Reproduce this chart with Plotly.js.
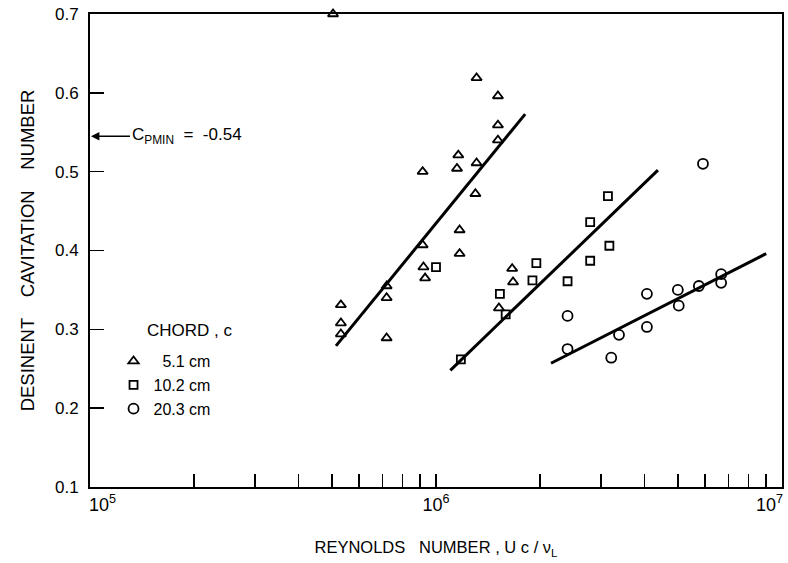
<!DOCTYPE html>
<html>
<head>
<meta charset="utf-8">
<script src="https://cdn.plot.ly/plotly-3.0.1.min.js"></script>
<style>html,body{margin:0;padding:0;background:#fff;}#chart{width:788px;height:563px;}</style>
</head>
<body>
<div id="chart"></div>
<script>
// Chord 5.1 cm (triangles)
const re51 = [5.04e5, 5.31e5, 5.31e5, 5.31e5, 7.2e5, 7.2e5, 7.2e5, 9.15e5, 9.15e5, 9.2e5, 9.3e5, 1.15e6, 1.16e6, 1.17e6, 1.17e6, 1.30e6, 1.31e6, 1.31e6, 1.51e6, 1.51e6, 1.51e6, 1.52e6, 1.66e6, 1.67e6];
const sig51 = [0.700, 0.331, 0.308, 0.294, 0.355, 0.340, 0.289, 0.500, 0.407, 0.379, 0.365, 0.504, 0.521, 0.426, 0.396, 0.472, 0.511, 0.619, 0.596, 0.559, 0.540, 0.327, 0.377, 0.360];
// Chord 10.2 cm (squares)
const re102 = [1.00e6, 1.18e6, 1.53e6, 1.59e6, 1.90e6, 1.95e6, 2.40e6, 2.79e6, 2.79e6, 3.14e6, 3.17e6];
const sig102 = [0.379, 0.262, 0.345, 0.319, 0.362, 0.384, 0.361, 0.436, 0.387, 0.469, 0.406];
// Chord 20.3 cm (circles)
const re203 = [2.40e6, 2.40e6, 3.21e6, 3.38e6, 4.07e6, 4.07e6, 5.00e6, 5.03e6, 5.75e6, 5.91e6, 6.67e6, 6.67e6];
const sig203 = [0.317, 0.275, 0.264, 0.293, 0.345, 0.303, 0.350, 0.330, 0.355, 0.510, 0.370, 0.359];
// Fitted lines
const fit51x = [5.14e5, 1.81e6], fit51y = [0.279, 0.573];
const fit102x = [1.10e6, 4.38e6], fit102y = [0.248, 0.502];
const fit203x = [2.15e6, 9.0e6], fit203y = [0.257, 0.396];
// Labels
const seriesNames = ['\u20075.1 cm', '10.2 cm', '20.3 cm'];
const decadeVals = [1e5, 1e6, 1e7];
const NB = '\u00a0';
const decadeLabels = [NB.repeat(5) + '10<sup>5</sup>', '10<sup>6</sup>', '10<sup>7</sup>' + NB.repeat(5)];
const yTickVals = [0.1, 0.2, 0.3, 0.4, 0.5, 0.6, 0.7];
const cpminValue = 0.545;
const cpminText = 'C<sub>PMIN</sub>  =  -0.54';
const xTitle = 'REYNOLDS' + NB.repeat(3) + 'NUMBER , U c / \u03bd<sub>L</sub>' + NB.repeat(2);
const yTitle = 'DESINENT' + NB.repeat(4) + 'CAVITATION' + NB.repeat(4) + 'NUMBER' + NB.repeat(3);

// build x ticks: decades labelled, 2..9 multiples unlabelled
const xTickVals = [], xTickText = [];
for (let d = 0; d < decadeVals.length; d++) {
  xTickVals.push(decadeVals[d]); xTickText.push(decadeLabels[d]);
  if (d < decadeVals.length - 1) {
    for (let m = 2; m <= 9; m++) { xTickVals.push(decadeVals[d] * m); xTickText.push(''); }
  }
}

const FONT = 'Liberation Sans, Arial, sans-serif';
const INK = '#000';

const markerTrace = (x, y, name, symbol, size) => ({
  x: x, y: y, name: name, type: 'scatter', mode: 'markers', cliponaxis: false,
  marker: {symbol: symbol, size: size, color: INK, line: {width: 1.8, color: INK}}
});
const lineTrace = (x, y) => ({
  x: x, y: y, type: 'scatter', mode: 'lines', showlegend: false, hoverinfo: 'skip',
  line: {color: INK, width: 3}
});

const data = [
  lineTrace(fit51x, fit51y), lineTrace(fit102x, fit102y), lineTrace(fit203x, fit203y),
  markerTrace(re51, sig51, seriesNames[0], 'triangle-up-open', 9),
  markerTrace(re102, sig102, seriesNames[1], 'square-open', 8),
  markerTrace(re203, sig203, seriesNames[2], 'circle-open', 10)
];

const layout = {
  width: 788, height: 563,
  margin: {l: 90, r: 6, t: 14, b: 76},
  paper_bgcolor: '#fff', plot_bgcolor: '#fff',
  font: {family: FONT, color: INK, size: 17},
  showlegend: true,
  legend: {x: 0.034, y: 0.302, xanchor: 'left', yanchor: 'top', bgcolor: 'rgba(0,0,0,0)',
           font: {size: 16, family: FONT, color: INK}, itemwidth: 30},
  xaxis: {
    type: 'log', range: [5, 7], showgrid: false, zeroline: false,
    showline: true, linecolor: INK, linewidth: 2, mirror: true,
    ticks: 'inside', ticklen: 13, tickwidth: 1.5, tickcolor: INK,
    tickmode: 'array', tickvals: xTickVals, ticktext: xTickText, tickangle: 0,
    ticklabeloverflow: 'allow',
    tickfont: {size: 18, family: FONT, color: INK},
    title: {text: xTitle, font: {size: 16.5, family: FONT, color: INK}, standoff: 28}
  },
  yaxis: {
    range: [0.1, 0.7], showgrid: false, zeroline: false,
    showline: true, linecolor: INK, linewidth: 2, mirror: true,
    ticks: 'inside', ticklen: 14, tickwidth: 1.5, tickcolor: INK,
    tickmode: 'array', tickvals: yTickVals, ticktext: yTickVals.map(v => v.toFixed(1)),
    tickfont: {size: 17, family: FONT, color: INK}, ticklabelstandoff: 6,
    title: {text: yTitle, font: {size: 18.5, family: FONT, color: INK}, standoff: 15}
  },
  annotations: [
    {x: 5, y: cpminValue, xref: 'x', yref: 'y', text: cpminText, showarrow: true,
     ax: 40, ay: 0, axref: 'pixel', ayref: 'pixel', xanchor: 'left',
     arrowhead: 2, arrowsize: 1.2, arrowwidth: 1.4, arrowcolor: INK, standoff: 1,
     font: {size: 17, family: FONT, color: INK}},
    {x: 0.08, y: 0.330, xref: 'paper', yref: 'paper', text: 'CHORD , c', showarrow: false,
     xanchor: 'left', yanchor: 'middle', font: {size: 17, family: FONT, color: INK}}
  ]
};

Plotly.newPlot('chart', data, layout, {displayModeBar: false, staticPlot: true});
</script>
</body>
</html>
